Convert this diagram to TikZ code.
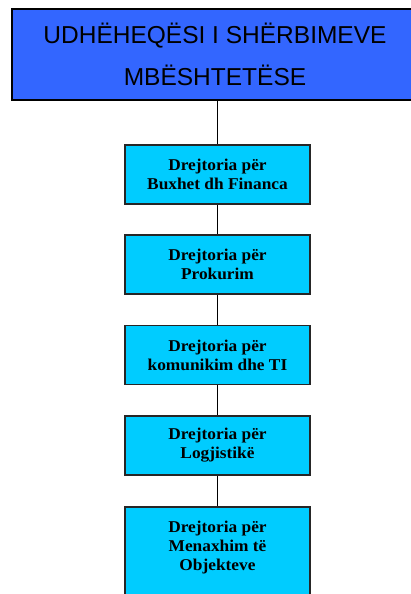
\documentclass[tikz,border=0pt]{standalone}
\usepackage{fontspec}
\setmainfont{Liberation Serif}
\newfontfamily\headfont{Liberation Sans}
\newfontfamily\boxfont[FakeStretch=1.05]{Liberation Serif}
\definecolor{headblue}{RGB}{51,102,255}
\definecolor{boxcyan}{RGB}{0,204,255}
\begin{document}
\begin{tikzpicture}[x=1pt,y=-1pt,
 head/.style={draw=black, line width=1.5pt, fill=headblue, inner sep=0pt,
   minimum width=406pt, minimum height=91pt, align=center,
   font=\headfont\fontsize{24.5}{42}\selectfont},
 dept/.style={draw=black!85, line width=1.5pt, fill=boxcyan, inner sep=0pt,
   minimum width=185pt, minimum height=59pt, align=center,
   font=\boxfont\bfseries\fontsize{16.5}{19}\selectfont},
 link/.style={draw=black, line width=1.2pt}]
\useasboundingbox (0,0) rectangle (411,594);
\clip (0,0) rectangle (411,594);
\node[head] (h) at (215,54.5) {UDHËHEQËSI I SHËRBIMEVE\\MBËSHTETËSE};
\node[dept] (d1) at (217.5,174.5) {Drejtoria për\\Buxhet dh Financa};
\node[dept] (d2) at (217.5,264.5) {Drejtoria për\\Prokurim};
\node[dept] (d3) at (217.5,355) {Drejtoria për\\komunikim dhe TI};
\node[dept] (d4) at (217.5,445.5) {Drejtoria për\\Logjistikë};
\node[dept, anchor=north, inner ysep=12.7pt] (d5) at (217.5,506)
  {\begin{tabular}[t]{@{}c@{}}Drejtoria për\\Menaxhim të\\Objekteve\end{tabular}\rule[-70pt]{0pt}{0pt}};
\draw[link] (d1.north |- h.south) -- (d1.north);
\draw[link] (d1) -- (d2);
\draw[link] (d2) -- (d3);
\draw[link] (d3) -- (d4);
\draw[link] (d4) -- (d5);
\end{tikzpicture}
\end{document}
